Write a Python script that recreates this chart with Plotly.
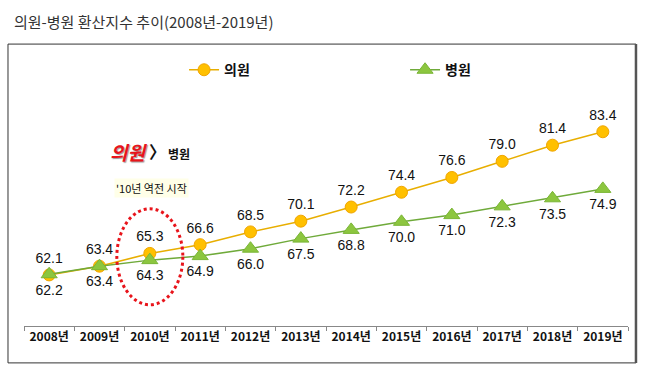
import plotly.graph_objects as go

years = ["2008년", "2009년", "2010년", "2011년", "2012년", "2013년",
         "2014년", "2015년", "2016년", "2017년", "2018년", "2019년"]
clinic = [62.1, 63.4, 65.3, 66.6, 68.5, 70.1, 72.2, 74.4, 76.6, 79.0, 81.4, 83.4]
hospital = [62.2, 63.4, 64.3, 64.9, 66.0, 67.5, 68.8, 70.0, 71.0, 72.3, 73.5, 74.9]

FONT = "Liberation Sans, Arial, Noto Sans CJK KR"
KFONT = "Noto Sans CJK KR, Liberation Sans"

fig = go.Figure()
fig.add_trace(go.Scatter(
    x=years, y=clinic, name="의원", mode="lines+markers+text",
    line=dict(color="#E8AE00", width=1.5),
    marker=dict(symbol="circle", size=12, color="#FFC000", line=dict(color="#F0A500", width=1)),
    text=[f"{v:.1f}" for v in clinic], textposition="top center",
    textfont=dict(family=FONT, size=14, color="#111"),
    cliponaxis=False,
))
fig.add_trace(go.Scatter(
    x=years, y=hospital, name="병원", mode="lines+markers+text",
    line=dict(color="#6FAA3A", width=1.5),
    marker=dict(symbol="triangle-up", size=14, color="#8CC63F", line=dict(color="#7AB536", width=1)),
    text=[f"{v:.1f}" for v in hospital], textposition="bottom center",
    textfont=dict(family=FONT, size=14, color="#111"),
    cliponaxis=False,
))

fig.update_layout(
    width=650, height=373,
    margin=dict(l=24, r=22, t=80, b=47, autoexpand=False),
    paper_bgcolor="white", plot_bgcolor="white",
    font=dict(family=FONT, color="#111"),
    showlegend=True,
    legend=dict(orientation="h", x=0.265, y=1.04, xanchor="left", yanchor="middle",
                entrywidth=176, entrywidthmode="pixels", itemwidth=30,
                font=dict(family=KFONT, size=14, color="#111", weight="bold"),
                bgcolor="rgba(0,0,0,0)"),
    xaxis=dict(type="category", range=[-0.5, 11.5], showgrid=False, zeroline=False,
               showline=True, linecolor="#888", linewidth=1, automargin=False,
               ticks="outside", tickson="boundaries", ticklen=4, tickcolor="#888",
               tickangle=0,
               tickfont=dict(family=KFONT, size=12, color="#111", weight="bold"),
               fixedrange=True),
    yaxis=dict(range=[54.5, 91.1], visible=False, showgrid=False, zeroline=False,
               fixedrange=True, automargin=False),
    annotations=[
        dict(text="의원-병원 환산지수 추이(2008년-2019년)", xref="paper", yref="paper",
             x=-0.02, y=1.236, xanchor="left", yanchor="middle", showarrow=False,
             font=dict(family=KFONT, size=15, color="#333")),
        dict(text="<b><i>의원</i></b>", xref="x", yref="y", x="2010년", y=80.4,
             xshift=-21, showarrow=False,
             font=dict(family=KFONT, size=19, color="#E8141B", shadow="1px 1px 1px #999")),
        dict(text="〉", xref="x", yref="y", x="2010년", y=80.4,
             xshift=8, showarrow=False,
             font=dict(family=KFONT, size=17, color="#111", weight="bold")),
        dict(text="<b>병원</b>", xref="x", yref="y", x="2010년", y=80.2,
             xshift=29, showarrow=False,
             font=dict(family=KFONT, size=12, color="#111")),
        dict(text="'10년 역전 시작", xref="x", yref="y", x="2010년", y=75.1,
             xshift=2, showarrow=False, bgcolor="#FFFFE8",
             font=dict(family=KFONT, size=11, color="#111")),
    ],
    shapes=[
        dict(type="circle", xref="x", yref="y", xsizemode="pixel", ysizemode="pixel",
             xanchor="2010년", yanchor=64.8, x0=-33, x1=33, y0=-48, y1=48,
             line=dict(color="#E8141B", width=3, dash="dot")),
        dict(type="rect", xref="paper", yref="paper", x0=-0.0265, x1=1.0132, y0=-0.150, y1=1.146,
             line=dict(color="#333", width=1), layer="below"),
        dict(type="line", xref="paper", yref="paper", x0=1.0132, x1=1.0132, y0=-0.150, y1=1.146,
             line=dict(color="#555", width=2.5), layer="below"),
    ],
)

fig.write_html("out.html", config={"displayModeBar": False},
               post_script="document.body.style.margin='0';document.body.style.overflow='hidden';")
